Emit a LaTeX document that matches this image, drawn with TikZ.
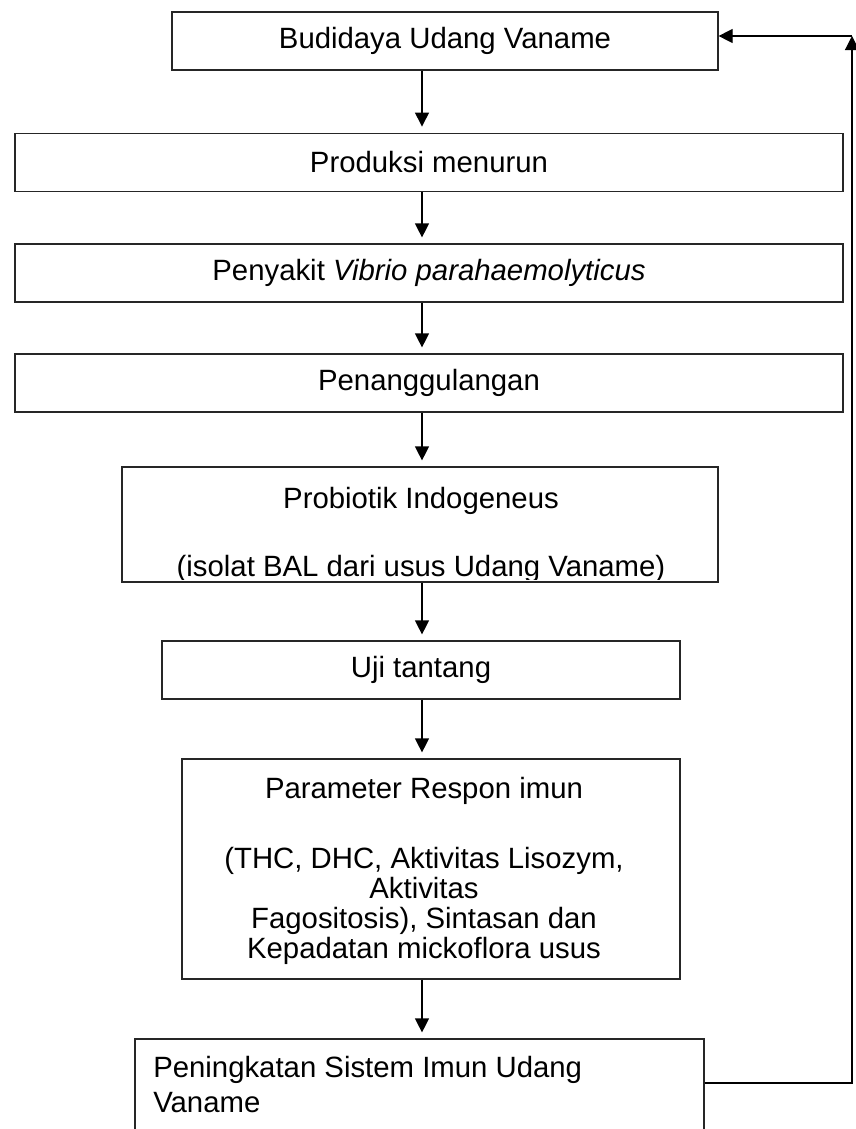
\documentclass[tikz,border=0pt]{standalone}
\usepackage{fontspec}
\setmainfont{Liberation Sans}
\usetikzlibrary{arrows.meta, positioning}
\tikzset{
    box/.style={draw=black!85, line width=0.9pt, fill=white, inner sep=0pt, font=\fontsize{22}{26}\selectfont},
    txt/.style={anchor=base, inner sep=0pt, font=\fontsize{22}{26}\selectfont},
    arrow/.style={-{Triangle[length=10.5pt, width=10.5pt]}, line width=0.9pt, black}
}

\begin{document}
\begin{tikzpicture}[x=0.75pt, y=-0.75pt]
        \useasboundingbox (0,0) rectangle (856,1129);
        \coordinate (axis) at (422,0);
        \coordinate (corner) at (852,36);

        \node [box, minimum width=409.5pt, minimum height=43.5pt] (budidaya) at (445,41) {Budidaya Udang Vaname};
        \node [box, minimum width=621pt, minimum height=44pt] (produksi) at (429,162.5) {Produksi menurun};
        \node [box, minimum width=621pt, minimum height=43.5pt] (penyakit) at (429,273) {Penyakit \textit{Vibrio parahaemolyticus}};
        \node [box, minimum width=621pt, minimum height=43.5pt] (tanggul) at (429,383) {Penanggulangan};
        \node [box, minimum width=447pt, minimum height=86.25pt] (probiotik) at (420,524.5) {};
        \node [box, minimum width=388.5pt, minimum height=43.5pt] (uji) at (421,670) {Uji tantang};
        \node [box, minimum width=373.5pt, minimum height=165pt] (param) at (431,869) {};
        \node [box, minimum width=426.75pt, minimum height=98.25pt] (imun) at (419.5,1104.5) {};

        % text of the taller boxes, line by line
        \begin{scope}
            \clip (probiotik.north west) rectangle ([yshift=2.25pt]probiotik.south east);
            \node [txt] (probiotik-a) at (421,508) {Probiotik Indogeneus};
            \node [txt] (probiotik-b) at (421,576) {(isolat BAL dari usus Udang Vaname)};
        \end{scope}
        \node [txt] (param-a) at (424,798) {Parameter Respon imun};
        \node [txt] (param-b) at (424,868) {(THC, DHC, Aktivitas Lisozym,};
        \node [txt] (param-c) at (424,898) {Aktivitas};
        \node [txt] (param-d) at (424,928) {Fagositosis), Sintasan dan};
        \node [txt] (param-e) at (424,958) {Kepadatan mickoflora usus};
        \node [txt, anchor=base west] (imun-a) at (153,1077) {Peningkatan Sistem Imun Udang};
        \node [txt, anchor=base west] (imun-b) at (153,1112) {Vaname};

        \foreach \a/\b in {budidaya/produksi, produksi/penyakit, penyakit/tanggul, tanggul/probiotik, probiotik/uji, uji/param, param/imun}
            \draw [arrow, shorten >=4.5pt] (\a.south -| axis) -- (\b.north -| axis);

        \draw [arrow] ([yshift=16.1pt]imun.east) -| (corner);
        \draw [arrow] (corner) -- (budidaya.east |- corner);
    \end{tikzpicture}
\end{document}
